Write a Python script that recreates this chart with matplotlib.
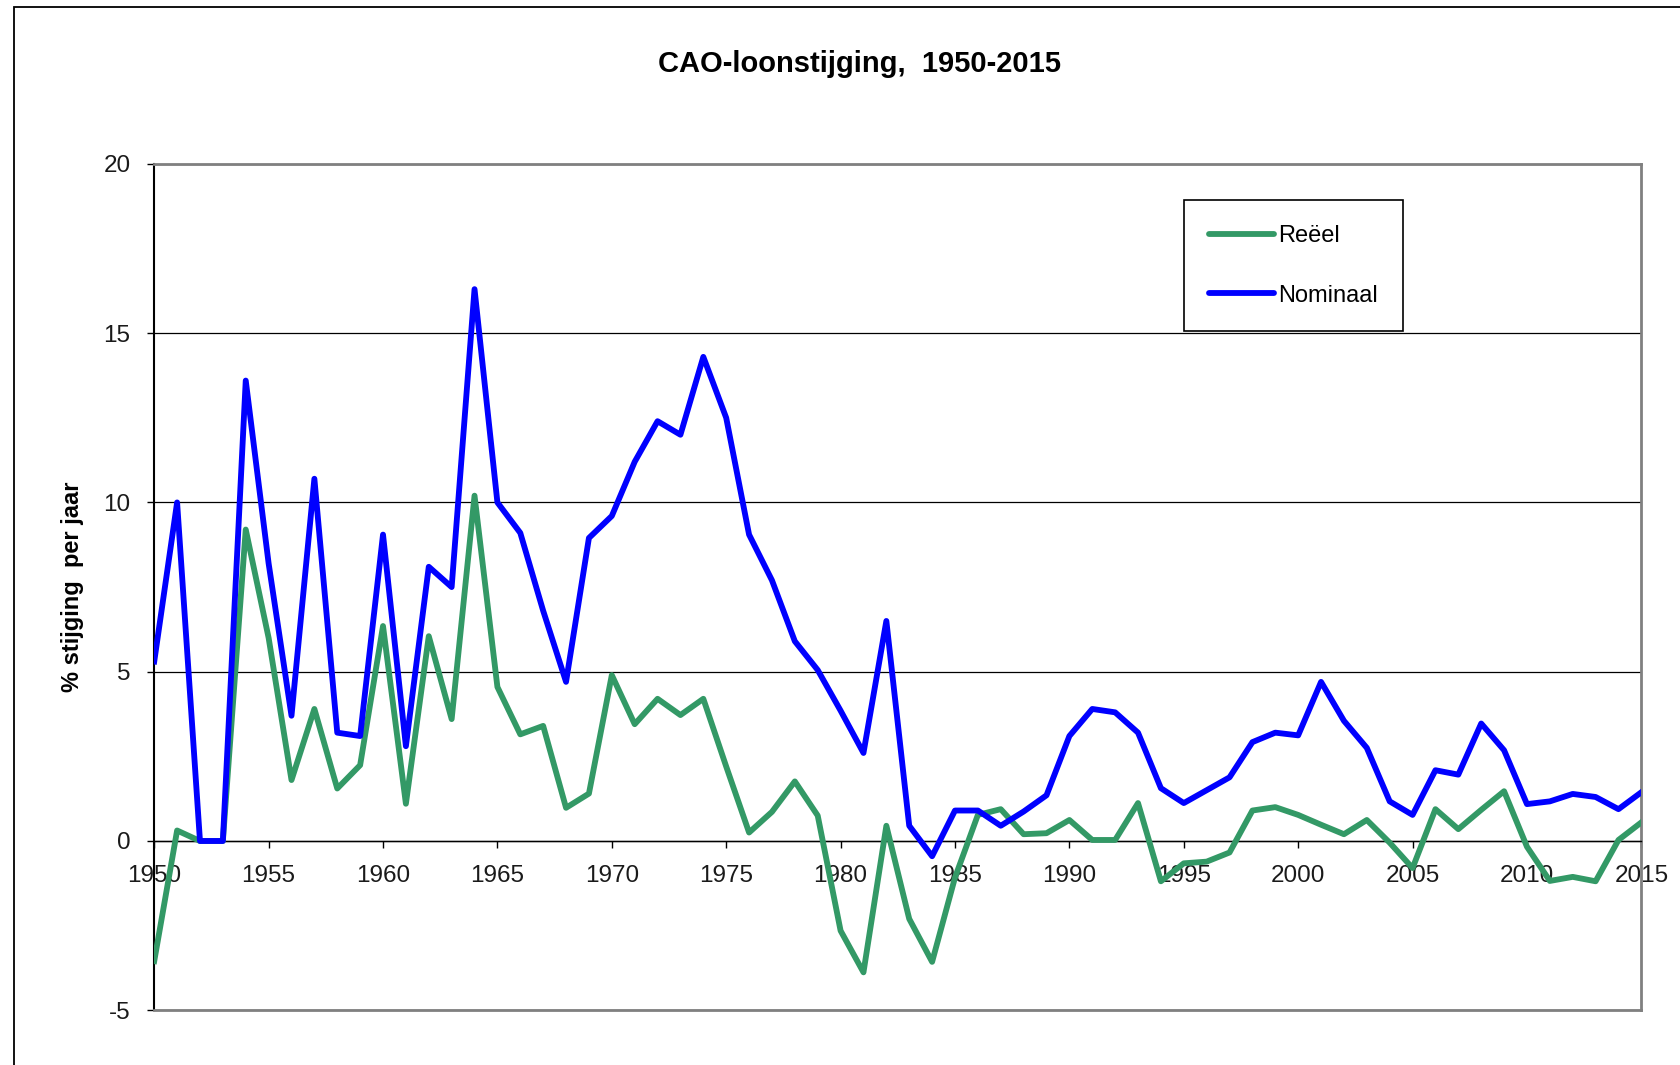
import matplotlib.pyplot as plt
import matplotlib.patches as patches
import numpy as np

plt.rcParams['font.family'] = ['Liberation Sans', 'DejaVu Sans']
plt.rcParams['axes.unicode_minus'] = False

jaren = np.arange(1950, 2016)

# nominale cao-loonstijging (% per jaar)
nominaal = [5.3, 10.0, 0.0, 0.0, 13.6, 8.2, 3.7, 10.7, 3.2, 3.1,
            9.05, 2.8, 8.1, 7.5, 16.3, 10.0, 9.1, 6.8, 4.7, 8.95,
            9.6, 11.2, 12.4, 12.0, 14.3, 12.5, 9.05, 7.7, 5.9, 5.05,
            3.85, 2.6, 6.5, 0.45, -0.45, 0.9, 0.9, 0.45, 0.87, 1.35,
            3.1, 3.9, 3.8, 3.2, 1.56, 1.12, 1.5, 1.88, 2.92, 3.2,
            3.12, 4.7, 3.55, 2.75, 1.17, 0.77, 2.09, 1.96, 3.47, 2.68,
            1.09, 1.17, 1.39, 1.30, 0.94, 1.44]

# reele cao-loonstijging (% per jaar)
reeel = [-3.55, 0.31, 0.0, 0.0, 9.2, 6.0, 1.8, 3.9, 1.55, 2.24,
         6.35, 1.1, 6.05, 3.6, 10.2, 4.55, 3.15, 3.4, 0.98, 1.4,
         4.9, 3.45, 4.2, 3.72, 4.2, 2.2, 0.25, 0.86, 1.76, 0.75,
         -2.65, -3.88, 0.45, -2.3, -3.57, -1.08, 0.77, 0.94, 0.2, 0.23,
         0.62, 0.03, 0.03, 1.12, -1.19, -0.66, -0.61, -0.34, 0.9, 1.0,
         0.77, 0.48, 0.2, 0.62, -0.05, -0.8, 0.94, 0.35, 0.92, 1.47,
         -0.17, -1.18, -1.06, -1.19, 0.03, 0.55]

x_ticks = np.arange(1950, 2016, 5)
y_ticks = [-5, 0, 5, 10, 15, 20]

fig = plt.figure(figsize=(16.8, 10.65), dpi=100)
ax = fig.add_axes([0.0918, 0.0514, 0.8852, 0.7947])

# kader rond de hele grafiek (valt rechts en onder buiten beeld)
kader = patches.Rectangle((14 / 1680, -0.5), 2, 1.5 - 7 / 1065, transform=fig.transFigure,
                          fill=False, edgecolor='black', lw=1.3)
fig.patches.append(kader)

lw = 4.2
ax.plot(jaren, reeel, color='#339966', lw=lw, label='Reëel', zorder=3)
ax.plot(jaren, nominaal, color='#0000FF', lw=lw, label='Nominaal', zorder=3)

ax.set_xlim(1950, 2015)
ax.set_ylim(-5, 20)
ax.set_xticks(x_ticks)
ax.set_yticks(y_ticks)
ax.set_axisbelow(True)
ax.yaxis.grid(True, color='black', lw=0.9)

ax.spines['bottom'].set_position(('data', 0))
ax.spines['bottom'].set_color('black')
ax.spines['bottom'].set_linewidth(1.0)
ax.spines['left'].set_color('black')
ax.spines['left'].set_linewidth(1.5)
ax.spines['top'].set_color('#808080')
ax.spines['top'].set_linewidth(2)
ax.spines['right'].set_color('#808080')
ax.spines['right'].set_linewidth(2)
ax.axhline(-5, color='#808080', lw=2, clip_on=False, zorder=2.6)

ax.tick_params(axis='x', direction='out', length=5, width=1, pad=12, labelsize=17.5, labelcolor='#1a1a1a')
ax.tick_params(axis='y', direction='out', length=5, width=1, pad=12, labelsize=17.5, labelcolor='#1a1a1a')

ax.set_ylabel('% stijging  per jaar', fontsize=17, fontweight='bold')
ax.yaxis.set_label_coords(-0.0475, 0.5)
fig.text(860 / 1680, 1 - 64 / 1065, 'CAO-loonstijging,  1950-2015', ha='center', va='center',
         fontsize=21, fontweight='bold')

leg = ax.legend(loc='upper left', bbox_to_anchor=(1184 / 1680, 1 - 200 / 1065),
                bbox_transform=fig.transFigure, fontsize=17, frameon=True, fancybox=False,
                handlelength=2.75, handletextpad=0.2, labelspacing=1.6, borderpad=1.05,
                borderaxespad=0)
leg.get_frame().set_edgecolor('black')
leg.get_frame().set_linewidth(1.2)
leg.get_frame().set_alpha(None)
leg.get_frame().set_facecolor('white')
for h in leg.get_lines():
    h.set_linewidth(lw)
    h.set_solid_capstyle('round')

fig.savefig('out.png', dpi=100)
